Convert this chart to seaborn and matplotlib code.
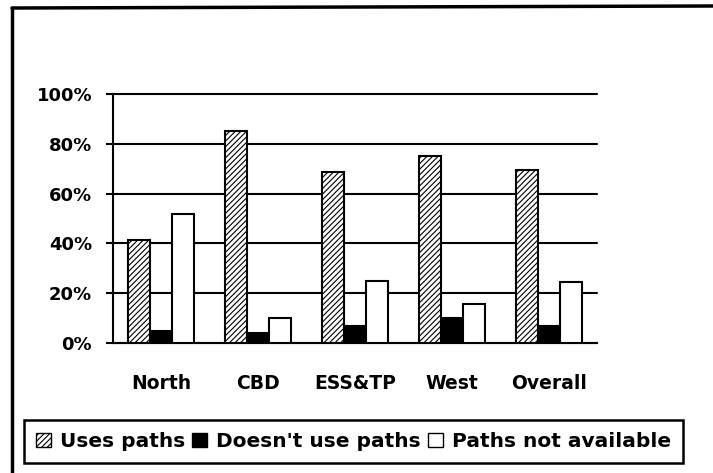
import matplotlib
matplotlib.use("Agg")
import matplotlib.pyplot as plt
import seaborn as sns
import pandas as pd
from matplotlib.lines import Line2D
from matplotlib.ticker import PercentFormatter

# data (percent of respondents)
areas = ["North", "CBD", "ESS&TP", "West", "Overall"]
uses_paths = [41.5, 85, 68.5, 75, 69.5]
doesnt_use = [5, 4, 7, 10, 7]
not_available = [52, 10, 25, 15.5, 24.5]
series = ["Uses paths", "Doesn't use paths", "Paths not available"]

df = pd.DataFrame({
    "area": areas * 3,
    "group": [series[0]] * 5 + [series[1]] * 5 + [series[2]] * 5,
    "pct": uses_paths + doesnt_use + not_available,
})

sns.set_theme(style="white")
plt.rcParams["font.family"] = ["DejaVu Sans"]
plt.rcParams["font.weight"] = "bold"
plt.rcParams["text.color"] = "black"
plt.rcParams["xtick.color"] = "black"
plt.rcParams["ytick.color"] = "black"
plt.rcParams["hatch.linewidth"] = 0.8
plt.rcParams["hatch.color"] = "black"

W, H = 713, 473
fig = plt.figure(figsize=(W / 100, H / 100), dpi=100)
ax = fig.add_axes([113 / W, 1 - 343 / H, (597 - 113) / W, (343 - 94) / H])

sns.barplot(data=df, x="area", y="pct", hue="group", order=areas, hue_order=series,
            palette=["white", "black", "white"], width=0.68, edgecolor="black",
            linewidth=1.5, legend=False, ax=ax, zorder=3)

# hatched fill for the first series
for bar in ax.containers[0]:
    bar.set_hatch("//////")

ax.set_ylim(0, 100)
ax.set_xlim(-0.5, 4.5)
ax.set_yticks([0, 20, 40, 60, 80, 100])
ax.yaxis.set_major_formatter(PercentFormatter(decimals=0))
ax.grid(axis="y", color="black", linewidth=1.5, zorder=0)
ax.set_axisbelow(True)
for gl in ax.get_ygridlines():
    gl.set_clip_on(False)
ax.set_xlabel("")
ax.set_ylabel("")

for side in ["top", "right"]:
    ax.spines[side].set_visible(False)
for side in ["left", "bottom"]:
    ax.spines[side].set_color("black")
    ax.spines[side].set_linewidth(1.5)

ax.tick_params(axis="y", direction="out", length=5, width=1.5, color="black",
               labelcolor="black", labelsize=13, pad=10, left=True)
ax.tick_params(axis="x", length=0, labelcolor="black", labelsize=13.5, pad=22)
for lab in ax.get_xticklabels() + ax.get_yticklabels():
    lab.set_fontweight("bold")

# legend in a plain box below the plot
handles = [
    plt.Rectangle((0, 0), 1, 1, facecolor="white", edgecolor="black", hatch="//////", linewidth=1),
    plt.Rectangle((0, 0), 1, 1, facecolor="black", edgecolor="black", linewidth=1),
    plt.Rectangle((0, 0), 1, 1, facecolor="white", edgecolor="black", linewidth=1),
]
leg = fig.legend(handles, series, loc="lower left",
                 bbox_to_anchor=(24 / W, 1 - 463 / H, (683 - 24) / W, (463 - 417) / H),
                 mode="expand", ncol=3, frameon=True, fancybox=False, framealpha=1,
                 edgecolor="black",
                 handlelength=0.75, handleheight=0.75, handletextpad=0.45,
                 columnspacing=0.5, borderpad=0.6, borderaxespad=0,
                 prop={"size": 14.5, "weight": "bold"})
leg.get_frame().set_linewidth(1.8)
for t in leg.get_texts():
    t.set_color("black")

# scanned outer frame (left and top edges only)
fig.add_artist(Line2D([12 / W, 12 / W], [0, 1 - 8 / H], transform=fig.transFigure,
                      color="black", linewidth=2.5))
fig.add_artist(Line2D([12 / W, 1], [1 - 8 / H, 1 - 6 / H], transform=fig.transFigure,
                      color="black", linewidth=2.5))

fig.savefig("out.png", dpi=100)
